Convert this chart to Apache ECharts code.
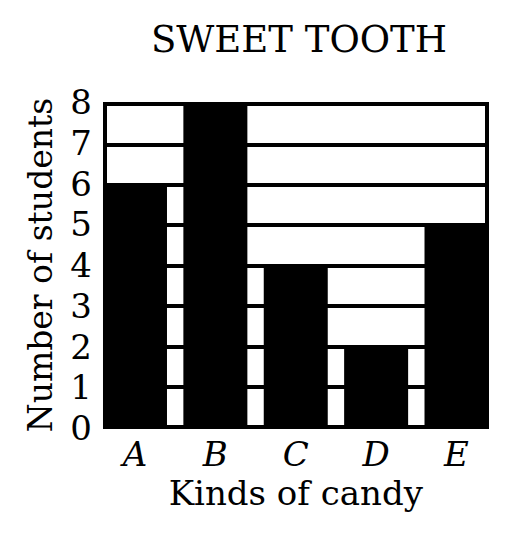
<!DOCTYPE html>
<html>
<head>
<meta charset="utf-8">
<script src="https://cdn.jsdelivr.net/npm/echarts@6/dist/echarts.min.js"></script>
<style>
html,body{margin:0;padding:0;background:#fff;}
#chart{width:508px;height:542px;}
</style>
</head>
<body>
<div id="chart"></div>
<script>
const titleText = 'SWEET TOOTH';
const categories = ['A', 'B', 'C', 'D', 'E'];
const students = [6, 8, 4, 2, 5];
const yTicks = [0, 1, 2, 3, 4, 5, 6, 7, 8];
const xName = 'Kinds of candy';
const yName = 'Number of students';

const FONT = 'DejaVu Serif';
const chart = echarts.init(document.getElementById('chart'), null, {renderer: 'svg'});
chart.setOption({
  animation: false,
  backgroundColor: '#fff',
  title: {
    text: titleText,
    left: 294,
    textAlign: 'center',
    top: 16,
    textStyle: {fontFamily: FONT, fontSize: 37, fontWeight: 'normal', color: '#000'}
  },
  grid: [
    {left: 105, right: 21, top: 104, bottom: 115, show: true, borderColor: '#000', borderWidth: 4, backgroundColor: 'transparent'},
    {left: 94.8, right: 11.3, top: 102, bottom: 114}
  ],
  xAxis: [
    {gridIndex: 0, type: 'value', min: 0, max: 1, show: false},
    {
      gridIndex: 1, type: 'category', data: categories,
      axisLine: {show: false}, axisTick: {show: false},
      axisLabel: {fontFamily: FONT, fontStyle: 'italic', fontSize: 34, color: '#000', margin: 9},
      name: xName, nameLocation: 'middle', nameGap: 47,
      nameTextStyle: {fontFamily: FONT, fontSize: 34, color: '#000'}
    }
  ],
  yAxis: [
    {
      gridIndex: 0, type: 'value', min: yTicks[0], max: yTicks[yTicks.length - 1], interval: 1,
      axisLine: {show: false}, axisTick: {show: false}, axisLabel: {show: false},
      splitLine: {show: true, lineStyle: {color: '#000', width: 4}}
    },
    {
      gridIndex: 1, type: 'value', min: yTicks[0], max: yTicks[yTicks.length - 1], interval: 1,
      axisLine: {show: false}, axisTick: {show: false}, splitLine: {show: false},
      axisLabel: {fontFamily: FONT, fontSize: 34, color: '#000', margin: 3},
      name: yName, nameLocation: 'middle', nameGap: 38, nameRotate: 90,
      nameTextStyle: {fontFamily: FONT, fontSize: 33, color: '#000'}
    }
  ],
  series: [
    {
      type: 'bar', xAxisIndex: 1, yAxisIndex: 1, data: students,
      barWidth: 64, itemStyle: {color: '#000'}, z: 3
    }
  ]
});
</script>
</body>
</html>
